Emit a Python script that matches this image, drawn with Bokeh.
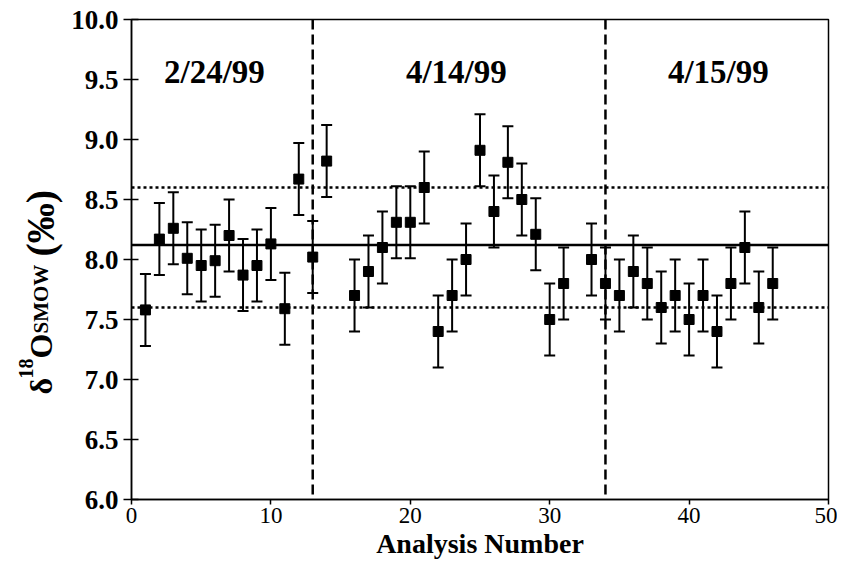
import numpy as np
from bokeh.plotting import figure
from bokeh.layouts import row
from bokeh.models import (ColumnDataSource, Whisker, TeeHead, Span, Label,
                          FixedTicker, Range1d, NumeralTickFormatter)
from bokeh.embed import file_html
from bokeh.resources import INLINE

# ---- data ----
analysis_number = [1, 2, 3, 4, 5, 6, 7, 8, 9, 10, 11, 12, 13, 14,
                   16, 17, 18, 19, 20, 21, 22, 23, 24, 25, 26, 27, 28, 29, 30, 31,
                   33, 34, 35, 36, 37, 38, 39, 40, 41, 42, 43, 44, 45, 46]
d18o_smow = [7.58, 8.17, 8.26, 8.01, 7.95, 7.99, 8.20, 7.87, 7.95, 8.13, 7.59, 8.67, 8.02, 8.82,
             7.70, 7.90, 8.10, 8.31, 8.31, 8.60, 7.40, 7.70, 8.00, 8.91, 8.40, 8.81, 8.50, 8.21, 7.50, 7.80,
             8.00, 7.80, 7.70, 7.90, 7.80, 7.60, 7.70, 7.50, 7.70, 7.40, 7.80, 8.10, 7.60, 7.80]
uncertainty = [0.3] * len(d18o_smow)

mean_value = 8.12
upper_limit = 8.60
lower_limit = 7.60
session_breaks = [13, 34]
session_names = ["2/24/99", "4/14/99", "4/15/99"]
y_ticks = [6.0, 6.5, 7.0, 7.5, 8.0, 8.5, 9.0, 9.5, 10.0]
x_ticks = [0, 10, 20, 30, 40, 50]

SERIF = "Liberation Serif"

src = ColumnDataSource(dict(
    x=analysis_number,
    y=d18o_smow,
    upper=[v + e for v, e in zip(d18o_smow, uncertainty)],
    lower=[v - e for v, e in zip(d18o_smow, uncertainty)],
))

H = 566
LW = 64            # width of the strip holding the y-axis title
W = 837 - LW
MT, MB = 19, 67
yr = Range1d(6, 10)
p = figure(width=W, height=H, output_backend="svg", toolbar_location=None,
           x_range=Range1d(0, 50), y_range=yr,
           min_border_left=131 - LW, min_border_right=9, min_border_top=MT, min_border_bottom=MB)
p.xgrid.visible = False
p.ygrid.visible = False
p.outline_line_color = "black"
p.outline_line_width = 1.5
p.outline_line_alpha = 1.0
p.background_fill_color = "white"
p.border_fill_color = "white"

# y axis
p.yaxis.ticker = FixedTicker(ticks=y_ticks)
p.yaxis.formatter = NumeralTickFormatter(format="0.0")
p.yaxis.major_label_text_font = SERIF
p.yaxis.major_label_text_font_style = "bold"
p.yaxis.major_label_text_font_size = "27px"
p.yaxis.major_label_text_color = "black"
p.yaxis.major_tick_in = 7
p.yaxis.major_tick_out = 8
p.yaxis.minor_tick_line_color = None
p.yaxis.axis_line_width = 1.5
p.yaxis.major_tick_line_width = 1.5
p.yaxis.major_label_standoff = 5

# x axis
p.xaxis.ticker = FixedTicker(ticks=x_ticks)
p.xaxis.major_label_text_font = SERIF
p.xaxis.major_label_text_font_size = "23px"
p.xaxis.major_label_text_color = "black"
p.xaxis.major_tick_in = 0
p.xaxis.major_tick_out = 5
p.xaxis.minor_tick_line_color = None
p.xaxis.axis_line_width = 1.5
p.xaxis.major_tick_line_width = 1.5
p.xaxis.major_label_standoff = 3
p.xaxis.axis_label = "Analysis Number"
p.xaxis.axis_label_text_font = SERIF
p.xaxis.axis_label_text_font_style = "bold"
p.xaxis.axis_label_text_font_size = "28px"
p.xaxis.axis_label_text_color = "black"
p.xaxis.axis_label_standoff = 2

# reference lines
p.add_layout(Span(location=mean_value, dimension="width", line_color="black", line_width=2.5))
for lim in (upper_limit, lower_limit):
    p.add_layout(Span(location=lim, dimension="width", line_color="black",
                      line_width=2.5, line_dash="3 3"))
for b in session_breaks:
    p.add_layout(Span(location=b, dimension="height", line_color="black",
                      line_width=2.5, line_dash="10 5"))

# error bars and points
wh = Whisker(source=src, base="x", upper="upper", lower="lower",
             line_color="black", line_width=2,
             upper_head=TeeHead(size=11, line_color="black", line_width=2),
             lower_head=TeeHead(size=11, line_color="black", line_width=2))
p.add_layout(wh)
p.scatter("x", "y", source=src, marker="square", size=10, color="black")

# session labels
for name, lx in zip(session_names, [5.95, 23.3, 42.1]):
    p.add_layout(Label(x=lx, y=9.56, text=name, text_align="center", text_baseline="middle",
                       text_font=SERIF, text_font_style="bold", text_font_size="33px",
                       text_color="black"))

# ---- y-axis title strip: shares the y range, its frame is aligned with the plot's ----
t = figure(width=LW, height=H, output_backend="svg", toolbar_location=None,
           x_range=Range1d(0, LW), y_range=yr,
           x_axis_type=None, y_axis_type=None,
           min_border_left=0, min_border_right=0, min_border_top=MT, min_border_bottom=MB)
t.outline_line_color = None
t.xgrid.visible = False
t.ygrid.visible = False
t.background_fill_color = "white"
t.border_fill_color = "white"

px_per_unit = (H - MT - MB) / 4.0
base_x = 40
y_cur = 6.875
# (text, font px, raise px, advance px)
pieces = [("δ", 32, 0, 16), ("18", 20, 15, 20), ("O", 32, 0, 25),
          ("SMOW", 21, 0, 77), ("(‰)", 40, 0, 67)]
for txt, fs, raise_px, wpx in pieces:
    t.add_layout(Label(x=base_x - raise_px, y=y_cur, text=txt, angle=np.pi / 2,
                       text_align="left", text_baseline="alphabetic",
                       text_font=SERIF, text_font_style="bold", text_font_size=f"{fs}px",
                       text_color="black"))
    y_cur += wpx / px_per_unit

layout = row(t, p)
open("out.html", "w").write(file_html(layout, INLINE))
